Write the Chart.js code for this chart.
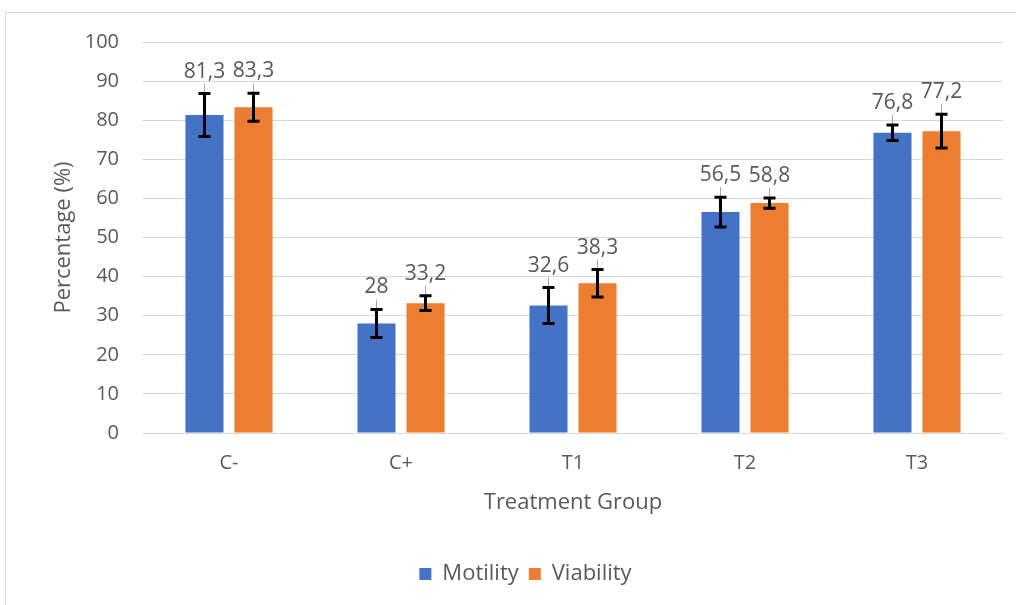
<!DOCTYPE html>
<html>
<head>
<meta charset="utf-8">
<script src="https://cdn.jsdelivr.net/npm/chart.js@4/dist/chart.umd.min.js"></script>
<style>
  html, body { margin: 0; padding: 0; background: #fff; }
  #frame {
    position: absolute; left: 5px; top: 12px; width: 1020px; height: 600px;
    border: 1px solid #d9d9d9; box-sizing: border-box;
  }
  #wrap { position: absolute; left: 0; top: 0; width: 1016px; height: 605px; }
</style>
</head>
<body>
<div id="frame"></div>
<div id="wrap"><canvas id="chart" width="1016" height="605"></canvas></div>
<script>
const categories = ["C-", "C+", "T1", "T2", "T3"];
const motility = [81.3, 28, 32.6, 56.5, 76.8];
const viability = [83.3, 33.2, 38.3, 58.8, 77.2];
const motilityErr = [5.5, 3.6, 4.6, 3.8, 2.0];
const viabilityErr = [3.6, 1.9, 3.5, 1.3, 4.3];
const yTicks = [0, 10, 20, 30, 40, 50, 60, 70, 80, 90, 100];

const textColor = "#595959";
const fontFamily = "'Open Sans', sans-serif";

function fmt(v) {
  return String(v).replace(".", ",");
}

// error bars, leader lines and value labels
const errorBarPlugin = {
  id: "errorBars",
  afterDatasetsDraw(chart) {
    const ctx = chart.ctx;
    const y = chart.scales.y;
    const errs = [motilityErr, viabilityErr];
    chart.data.datasets.forEach((ds, di) => {
      const meta = chart.getDatasetMeta(di);
      meta.data.forEach((bar, i) => {
        const v = ds.data[i];
        const e = errs[di][i];
        const yTop = y.getPixelForValue(v + e);
        const yBot = y.getPixelForValue(v - e);
        const labelY = yTop - 22;

        ctx.save();
        // leader line
        ctx.strokeStyle = "#a6a6a6";
        ctx.lineWidth = 1;
        ctx.beginPath();
        ctx.moveTo(bar.x, labelY + 12);
        ctx.lineTo(bar.x, bar.y);
        ctx.stroke();

        // error bar
        ctx.strokeStyle = "#000";
        ctx.lineWidth = 3;
        ctx.beginPath();
        ctx.moveTo(bar.x, yTop);
        ctx.lineTo(bar.x, yBot);
        ctx.moveTo(bar.x - 6, yTop);
        ctx.lineTo(bar.x + 6, yTop);
        ctx.moveTo(bar.x - 6, yBot);
        ctx.lineTo(bar.x + 6, yBot);
        ctx.stroke();

        // value label
        ctx.fillStyle = textColor;
        ctx.font = "21px " + fontFamily;
        ctx.textAlign = "center";
        ctx.textBaseline = "middle";
        ctx.fillText(fmt(v), bar.x, labelY);
        ctx.restore();
      });
    });
  }
};

new Chart(document.getElementById("chart"), {
  type: "bar",
  data: {
    labels: categories,
    datasets: [
      { label: "Motility", data: motility, backgroundColor: "#4472C4" },
      { label: "Viability", data: viability, backgroundColor: "#ED7D31" }
    ]
  },
  options: {
    responsive: false,
    animation: false,
    layout: { padding: { top: 42, right: 13, left: 48, bottom: 10 } },
    datasets: { bar: { categoryPercentage: 0.57, barPercentage: 0.776 } },
    plugins: {
      tooltip: { enabled: false },
      legend: {
        position: "bottom",
        labels: {
          color: textColor,
          font: { family: fontFamily, size: 22 },
          boxWidth: 12,
          boxHeight: 12,
          padding: 10
        }
      }
    },
    scales: {
      x: {
        grid: { display: false, drawTicks: false },
        border: { color: "#d9d9d9", width: 1 },
        ticks: { color: textColor, font: { family: fontFamily, size: 20 }, padding: 18 },
        title: {
          display: true, text: "Treatment Group", color: textColor,
          font: { family: fontFamily, size: 22 }, padding: { top: 0, bottom: 37 }
        },
        afterFit(scale) { scale.height = 120; }
      },
      y: {
        min: 0, max: 100,
        afterBuildTicks(scale) { scale.ticks = yTicks.map(v => ({ value: v })); },
        grid: { color: "#d9d9d9", drawTicks: false },
        border: { display: false },
        ticks: { color: textColor, font: { family: fontFamily, size: 20 }, padding: 24 },
        title: {
          display: true, text: "Percentage (%)", color: textColor,
          font: { family: fontFamily, size: 22 }, padding: { top: 3, bottom: 0 }
        },
        afterFit(scale) { scale.width = 95; }
      }
    }
  },
  plugins: [errorBarPlugin]
});
</script>
</body>
</html>
